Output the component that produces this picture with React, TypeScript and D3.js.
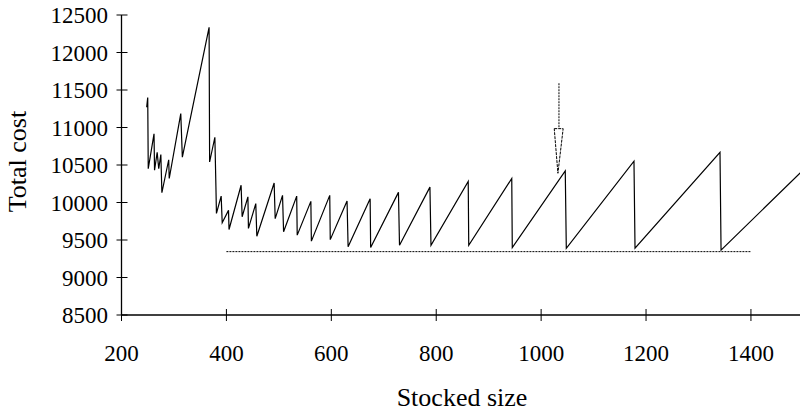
import React from "react";
import { scaleLinear, line } from "d3";

// sawtooth of total cost against stocked size
const stockedSize = [
  248, 250, 251, 262, 263, 268, 271, 275, 277, 290, 291, 313, 316, 367, 368,
  378, 380, 381, 390, 392, 404, 405, 428, 430, 441, 442, 456, 458, 491, 493,
  507, 509, 534, 535, 561, 562, 597, 598, 630, 632, 674, 675, 728, 730, 788,
  790, 861, 862, 944, 945, 1046, 1048, 1177, 1179, 1341, 1343, 1500,
];
const totalCost = [
  11270, 11400, 10450, 10915, 10430, 10670, 10450, 10640, 10130, 10570, 10320,
  11185, 10605, 12335, 10540, 10870, 10210, 9855, 10085, 9730, 9895, 9640,
  10230, 9810, 10075, 9655, 9985, 9550, 10260, 9785, 10095, 9610, 10085, 9565,
  10015, 9485, 10095, 9505, 10020, 9410, 10050, 9400, 10135, 9430, 10205, 9430,
  10280, 9430, 10320, 9400, 10420, 9390, 10550, 9390, 10670, 9365, 10436,
];

// dotted floor line
const floorSize = [400, 1400];
const floorCost = [9345, 9345];

// arrow pointing at the marked peak
const arrowShaftSize = [1034, 1034];
const arrowShaftCost = [11590, 10985];
const arrowHeadSize = [1025, 1042, 1032];
const arrowHeadCost = [10985, 10985, 10390];

const xTicks = [200, 400, 600, 800, 1000, 1200, 1400];
const yTicks = [8500, 9000, 9500, 10000, 10500, 11000, 11500, 12000, 12500];

const WIDTH = 800;
const HEIGHT = 413;
const FONT = "'Liberation Serif', 'Times New Roman', serif";

export default function App() {
  const x = scaleLinear().domain([200, 1500]).range([121.5, 803.4]);
  const y = scaleLinear().domain([8500, 12500]).range([315, 15]);

  const pts = (xs: number[], ys: number[]) => xs.map((v, i) => [v, ys[i]] as [number, number]);
  const path = line<[number, number]>()
    .x((d) => x(d[0]))
    .y((d) => y(d[1]));

  const x0 = x(200);
  const y0 = y(8500);

  return (
    <>
      <style>{`body{margin:0}`}</style>
      <svg width={WIDTH} height={HEIGHT} style={{ display: "block", background: "#fff" }}>
        {/* main series */}
        <path
          d={path(pts(stockedSize, totalCost)) ?? ""}
          fill="none"
          stroke="#000"
          strokeWidth={1.2}
          strokeLinejoin="miter"
        />
        {/* floor */}
        <path
          d={path(pts(floorSize, floorCost)) ?? ""}
          fill="none"
          stroke="#000"
          strokeWidth={1}
          strokeDasharray="2,1"
        />
        {/* arrow */}
        <path
          d={path(pts(arrowShaftSize, arrowShaftCost)) ?? ""}
          fill="none"
          stroke="#000"
          strokeWidth={1}
          strokeDasharray="2,1"
        />
        <path
          d={(path(pts(arrowHeadSize, arrowHeadCost)) ?? "") + "Z"}
          fill="#fff"
          stroke="#000"
          strokeWidth={1}
          strokeDasharray="3,1"
        />

        {/* axes */}
        <line x1={x0} x2={WIDTH} y1={y0} y2={y0} stroke="#000" strokeWidth={1.3} />
        <line x1={x0} x2={x0} y1={y(12500)} y2={y0} stroke="#000" strokeWidth={1.3} />
        {xTicks.map((t) => (
          <g key={t}>
            <line x1={x(t)} x2={x(t)} y1={y0 - 6} y2={y0 + 6} stroke="#000" strokeWidth={1} />
            <text x={x(t)} y={361} textAnchor="middle" fontFamily={FONT} fontSize={23} fill="#000">
              {t}
            </text>
          </g>
        ))}
        {yTicks.map((t) => (
          <g key={t}>
            <line x1={x0 - 5} x2={x0 + 6} y1={y(t)} y2={y(t)} stroke="#000" strokeWidth={1} />
            <text
              x={108}
              y={y(t)}
              dy="0.35em"
              textAnchor="end"
              fontFamily={FONT}
              fontSize={23}
              fill="#000"
            >
              {t}
            </text>
          </g>
        ))}

        {/* axis titles */}
        <text x={462} y={406} textAnchor="middle" fontFamily={FONT} fontSize={26} fill="#000">
          Stocked size
        </text>
        <text
          transform="translate(26,161.5) rotate(-90)"
          textAnchor="middle"
          fontFamily={FONT}
          fontSize={26}
          fill="#000"
        >
          Total cost
        </text>
      </svg>
    </>
  );
}
